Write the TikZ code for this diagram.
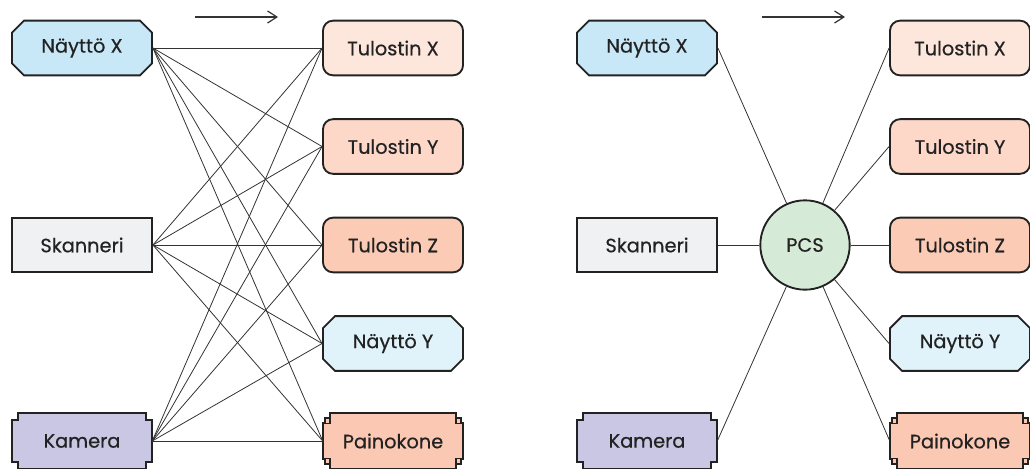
\documentclass[tikz,border=0pt]{standalone}
\usepackage{fontspec}
\setmainfont{Poppins}[FakeBold=0.5]
\usetikzlibrary{arrows.meta,positioning,calc,shapes.misc,backgrounds}
\definecolor{ink}     {HTML}{222222}
\definecolor{wire}    {HTML}{333333}
\definecolor{screenX} {HTML}{C8E8F8}
\definecolor{screenY} {HTML}{E0F2FA}
\definecolor{printX}  {HTML}{FDE6DC}
\definecolor{printY}  {HTML}{FDD8C9}
\definecolor{printZ}  {HTML}{FCCBB6}
\definecolor{pressOr} {HTML}{FBC8B3}
\definecolor{scanGr}  {HTML}{F0F1F3}
\definecolor{camLil}  {HTML}{CAC7E5}
\definecolor{hubGr}   {HTML}{D6EAD8}
\tikzset{
  dev/.style={minimum width=105pt, minimum height=41pt, inner sep=0pt,
              font=\fontsize{14.5}{17}\selectfont, text=ink},
  frame/.style={draw=ink, line width=1.4pt},
  screen/.style={dev, frame, chamfered rectangle, chamfered rectangle sep=4.5pt},
  printer/.style={dev, frame, rectangle, rounded corners=7.5pt},
  scanner/.style={dev, frame, rectangle},
  hub/.style={circle, frame, fill=hubGr, minimum size=67pt, inner sep=0pt,
              font=\fontsize{14.5}{17}\selectfont, text=ink},
  wire/.style={draw=wire, line width=0.6pt},
  flow/.style={draw=wire, line width=0.9pt, -{Straight Barb[length=7pt,width=9pt]}}
}
% camera outline: square notches cut out of each corner
\newcommand{\camframe}[2]{%
  \draw[frame, fill=#2] let \p1=(#1.north west), \p2=(#1.south east) in
    (\x1+4.5pt,\y1) -- (\x2-4.5pt,\y1) -- (\x2-4.5pt,\y1-5pt) -- (\x2,\y1-5pt)
    -- (\x2,\y2+5pt) -- (\x2-4.5pt,\y2+5pt) -- (\x2-4.5pt,\y2) -- (\x1+4.5pt,\y2)
    -- (\x1+4.5pt,\y2+5pt) -- (\x1,\y2+5pt) -- (\x1,\y1-5pt) -- (\x1+4.5pt,\y1-5pt) -- cycle;}
% press outline: stepped corners with a small square
\newcommand{\pressframe}[2]{%
  \draw[frame, fill=#2] let \p1=(#1.north west), \p2=(#1.south east) in
    (\x1+5.5pt,\y1) -- (\x2-5.5pt,\y1) -- (\x2-5.5pt,\y1-3.5pt) -- (\x2-1.5pt,\y1-3.5pt)
    -- (\x2-1.5pt,\y1-7.5pt) -- (\x2,\y1-7.5pt) -- (\x2,\y2+7.5pt) -- (\x2-1.5pt,\y2+7.5pt)
    -- (\x2-1.5pt,\y2+3.5pt) -- (\x2-5.5pt,\y2+3.5pt) -- (\x2-5.5pt,\y2) -- (\x1+5.5pt,\y2)
    -- (\x1+5.5pt,\y2+3.5pt) -- (\x1+1.5pt,\y2+3.5pt) -- (\x1+1.5pt,\y2+7.5pt) -- (\x1,\y2+7.5pt)
    -- (\x1,\y1-7.5pt) -- (\x1+1.5pt,\y1-7.5pt) -- (\x1+1.5pt,\y1-3.5pt) -- (\x1+5.5pt,\y1-3.5pt) -- cycle;
  \draw[frame, line width=1pt] let \p1=(#1.north west), \p2=(#1.south east) in
    (\x1+1.5pt,\y1-7.5pt) rectangle (\x1+5.5pt,\y1-3.5pt)
    (\x2-1.5pt,\y1-7.5pt) rectangle (\x2-5.5pt,\y1-3.5pt)
    (\x1+1.5pt,\y2+7.5pt) rectangle (\x1+5.5pt,\y2+3.5pt)
    (\x2-1.5pt,\y2+7.5pt) rectangle (\x2-5.5pt,\y2+3.5pt);}

\begin{document}
\begin{tikzpicture}[x=0.75pt, y=-0.75pt]
  \useasboundingbox (0,0) rectangle (1030,468);
  % point-to-point
  \node[screen, fill=screenX] (nxL) at (82,48)  {Näyttö X};
  \node[scanner, fill=scanGr] (skL) at (82,245) {Skanneri};
  \node[dev]                  (kaL) at (82,441) {Kamera};
  \node[printer, fill=printX] (txL) at (393,48)    {Tulostin X};
  \node[printer, fill=printY] (tyL) at (393,146.5) {Tulostin Y};
  \node[printer, fill=printZ] (tzL) at (393,245)   {Tulostin Z};
  \node[screen, fill=screenY] (nyL) at (393,343.5) {Näyttö Y};
  \node[dev]                  (paL) at (393,441)   {Painokone};
  % via the hub
  \node[screen, fill=screenX] (nxR) at (647,48)  {Näyttö X};
  \node[scanner, fill=scanGr] (skR) at (647,245) {Skanneri};
  \node[dev]                  (kaR) at (647,441) {Kamera};
  \node[hub]                  (pcs) at (805,245) {PCS};
  \node[printer, fill=printX] (txR) at (960,48)    {Tulostin X};
  \node[printer, fill=printY] (tyR) at (960,146.5) {Tulostin Y};
  \node[printer, fill=printZ] (tzR) at (960,245)   {Tulostin Z};
  \node[screen, fill=screenY] (nyR) at (960,343.5) {Näyttö Y};
  \node[dev]                  (paR) at (960,441)   {Painokone};
  \begin{scope}[on background layer]
    \camframe{kaL}{camLil}
    \camframe{kaR}{camLil}
    \pressframe{paL}{pressOr}
    \pressframe{paR}{pressOr}
  \end{scope}
  \foreach \s in {nxL,skL,kaL}{
    \foreach \t in {txL,tyL,tzL,nyL,paL}{ \draw[wire] (\s.east) -- (\t.west); }
  }
  \foreach \s in {nxR,skR,kaR}{ \draw[wire] (\s.east) -- (pcs); }
  \foreach \t in {txR,tyR,tzR,nyR,paR}{ \draw[wire] (pcs) -- (\t.west); }
  % direction
  \coordinate (aL0) at (195,17); \coordinate (aL1) at (278,17);
  \coordinate (aR0) at (762,17); \coordinate (aR1) at (845,17);
  \draw[flow] (aL0) -- (aL1);
  \draw[flow] (aR0) -- (aR1);
\end{tikzpicture}
\end{document}
